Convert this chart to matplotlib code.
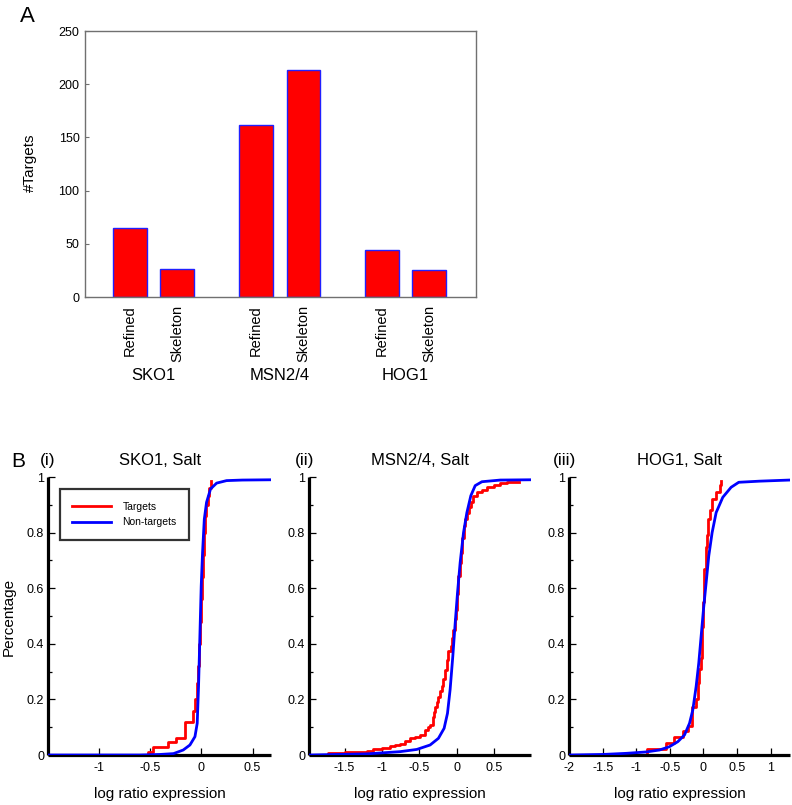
import matplotlib
matplotlib.use("Agg")
import matplotlib.pyplot as plt
from matplotlib.lines import Line2D
from matplotlib.ticker import MultipleLocator

plt.rcParams['font.family'] = ['Liberation Sans', 'DejaVu Sans']

# ---------------- Data ----------------
groups = ["SKO1", "MSN2/4", "HOG1"]
bar_labels = ["Refined", "Skeleton", "Refined", "Skeleton", "Refined", "Skeleton"]
bar_values = [65, 26, 162, 213, 44, 25]

panel_titles = ["SKO1, Salt", "MSN2/4, Salt", "HOG1, Salt"]
panel_tags = ["(i)", "(ii)", "(iii)"]

# (i) SKO1
sko1_nt_x = [-1.5, -0.6, -0.4, -0.27, -0.175, -0.11, -0.061, -0.039, -0.026, -0.013, 0.0, 0.013, 0.03, 0.052, 0.091, 0.15, 0.247, 0.4, 0.68]
sko1_nt_y = [0.0, 0.0, 0.002, 0.005, 0.018, 0.036, 0.066, 0.114, 0.247, 0.427, 0.608, 0.728, 0.848, 0.909, 0.957, 0.978, 0.987, 0.989, 0.99]
sko1_t_x = [-0.52, -0.52, -0.47, -0.32, -0.25, -0.16, -0.08, -0.06, -0.045, -0.035, -0.025, -0.015, -0.005, 0.005, 0.015, 0.025, 0.035, 0.05, 0.065, 0.08, 0.10]
sko1_t_y = [0.0, 0.012, 0.03, 0.045, 0.06, 0.12, 0.16, 0.2, 0.26, 0.32, 0.4, 0.48, 0.56, 0.64, 0.72, 0.8, 0.86, 0.9, 0.93, 0.96, 0.985]

# (ii) MSN2/4
msn_nt_x = [-1.97, -1.205, -0.759, -0.535, -0.357, -0.246, -0.17, -0.125, -0.09, -0.054, -0.022, 0.009, 0.044, 0.089, 0.134, 0.187, 0.245, 0.335, 0.58, 0.98]
msn_nt_y = [0.0, 0.004, 0.012, 0.02, 0.036, 0.06, 0.096, 0.15, 0.235, 0.355, 0.475, 0.584, 0.692, 0.8, 0.872, 0.933, 0.969, 0.983, 0.989, 0.99]
msn_t_x = [-1.72, -1.72, -1.5, -1.34, -1.2, -1.116, -1.0, -0.893, -0.82, -0.759, -0.69, -0.625, -0.56, -0.491,
           -0.424, -0.39, -0.357, -0.313, -0.3, -0.29, -0.27, -0.246, -0.22, -0.2, -0.18, -0.157, -0.135, -0.112,
           -0.08, -0.06, -0.045, -0.025, -0.009, 0.005, 0.021, 0.04, 0.058, 0.075, 0.089, 0.11, 0.134, 0.16, 0.187,
           0.22, 0.268, 0.335, 0.402, 0.49, 0.58, 0.67, 0.825]
msn_t_y = [0.0, 0.006, 0.009, 0.012, 0.016, 0.02, 0.025, 0.033, 0.037, 0.04, 0.05, 0.06, 0.065, 0.072,
           0.09, 0.1, 0.108, 0.138, 0.155, 0.174, 0.19, 0.21, 0.23, 0.247, 0.275, 0.307, 0.34, 0.373,
           0.391, 0.42, 0.451, 0.49, 0.523, 0.58, 0.644, 0.69, 0.728, 0.78, 0.824, 0.85, 0.872, 0.893, 0.909,
           0.93, 0.945, 0.955, 0.965, 0.973, 0.978, 0.981, 0.983]

# (iii) HOG1
hog_nt_x = [-2.0, -1.498, -1.15, -0.853, -0.655, -0.506, -0.382, -0.283, -0.208, -0.159, -0.109, -0.07, -0.035, 0.0, 0.04, 0.079, 0.129, 0.189, 0.288, 0.412, 0.526, 0.833, 1.28]
hog_nt_y = [0.0, 0.002, 0.006, 0.011, 0.018, 0.03, 0.048, 0.072, 0.114, 0.162, 0.247, 0.331, 0.427, 0.523, 0.62, 0.716, 0.8, 0.872, 0.927, 0.963, 0.981, 0.985, 0.989]
hog_t_x = [-0.843, -0.843, -0.555, -0.432, -0.298, -0.233, -0.169, -0.109, -0.084, -0.06, -0.035, -0.02, -0.01, 0.015, 0.04, 0.055, 0.075, 0.1, 0.124, 0.19, 0.24, 0.265]
hog_t_y = [0.0, 0.02, 0.042, 0.066, 0.088, 0.105, 0.174, 0.2, 0.26, 0.31, 0.35, 0.46, 0.55, 0.67, 0.75, 0.79, 0.85, 0.88, 0.92, 0.945, 0.97, 0.985]

panel_data = [
    (sko1_nt_x, sko1_nt_y, sko1_t_x, sko1_t_y),
    (msn_nt_x, msn_nt_y, msn_t_x, msn_t_y),
    (hog_nt_x, hog_nt_y, hog_t_x, hog_t_y),
]
panel_xlims = [(-1.49, 0.68), (-1.97, 0.99), (-2.0, 1.29)]
panel_xticks = [[-1, -0.5, 0, 0.5], [-1.5, -1, -0.5, 0, 0.5], [-2, -1.5, -1, -0.5, 0, 0.5, 1]]

# ---------------- Figure ----------------
W, H = 792, 805
fig = plt.figure(figsize=(W / 100, H / 100), dpi=100)


def rect(l, t, r, b):
    return [l / W, 1 - b / H, (r - l) / W, (b - t) / H]


def fpos(x, y):
    return x / W, 1 - y / H


# ---------------- Panel A ----------------
axA = fig.add_axes(rect(85, 31, 476, 297))
positions = [1, 2, 3.67, 4.67, 6.33, 7.33]
axA.bar(positions, bar_values, width=0.71, color="#ff0000", edgecolor="#2020ff", linewidth=1.0, zorder=2)
axA.set_xlim(0.05, 8.32)
axA.set_ylim(0, 250)
axA.set_yticks([0, 50, 100, 150, 200, 250])
axA.set_xticks(positions)
axA.set_xticklabels(bar_labels, rotation=90, fontsize=10.5, va="top", ha="center")
for s in axA.spines.values():
    s.set_color("#707070")
    s.set_linewidth(1.0)
axA.tick_params(axis="both", direction="in", length=3, color="#707070", labelsize=9, width=0.8)
axA.tick_params(axis="x", pad=6, labelsize=10.5)
axA.tick_params(axis="y", pad=4)
axA.tick_params(axis="y", which="both", right=False)

for gi, g in enumerate(groups):
    xc = (positions[2 * gi] + positions[2 * gi + 1]) / 2
    axA.text(xc, (297 - 376) / 266, g, transform=axA.get_xaxis_transform(),
             ha="center", va="center", fontsize=12)

fig.text(*fpos(30, 163), "#Targets", rotation=90, ha="center", va="center", fontsize=11)
fig.text(*fpos(20, 22), "A", ha="left", va="baseline", fontsize=16)

# ---------------- Panel B ----------------
axes_px = [(48.3, 477, 271, 755), (309.3, 477, 531, 755), (569.3, 477, 790, 755)]
for i, (l, t, r, b) in enumerate(axes_px):
    ax = fig.add_axes(rect(l, t, r, b))
    ntx, nty, tx, ty = panel_data[i]
    ax.plot(ntx, nty, color="#0000ff", linewidth=2.0, zorder=3, label="Non-targets")
    ax.plot(tx, ty, color="#ff0000", linewidth=2.0, drawstyle="steps-post", zorder=2, label="Targets")
    ax.set_xlim(*panel_xlims[i])
    ax.set_ylim(0, 1.0)
    ax.set_xticks(panel_xticks[i])
    ax.set_xticklabels([("%g" % v) for v in panel_xticks[i]])
    ax.set_yticks([0, 0.2, 0.4, 0.6, 0.8, 1])
    ax.set_yticklabels(["0", "0.2", "0.4", "0.6", "0.8", "1"])
    ax.yaxis.set_minor_locator(MultipleLocator(0.1))
    for side in ["top", "right"]:
        ax.spines[side].set_visible(False)
    for side in ["left", "bottom"]:
        ax.spines[side].set_linewidth(2.3)
        ax.spines[side].set_color("black")
        ax.spines[side].set_capstyle("butt")
    ax.tick_params(axis="both", which="major", direction="in", length=5, width=0.9, labelsize=9, pad=3)
    ax.tick_params(axis="y", which="minor", direction="in", length=3, width=0.9)
    ax.tick_params(axis="x", pad=5)
    ax.set_title(panel_titles[i], fontsize=12, pad=9)
    xc = (l + r) / 2
    fig.text(*fpos(xc, 794), "log ratio expression", ha="center", va="center", fontsize=11)
    tag_x = [40, 295, 553][i]
    fig.text(*fpos(tag_x, 465), panel_tags[i], ha="left", va="baseline", fontsize=12.5)
    if i == 0:
        handles = [Line2D([], [], color="#ff0000", linewidth=2.0),
                   Line2D([], [], color="#0000ff", linewidth=2.0)]
        leg = ax.legend(handles, ["Targets", "Non-targets"], loc="upper left",
                        bbox_to_anchor=(0.0525, 0.956), borderaxespad=0,
                        fontsize=7.5, frameon=True, fancybox=False,
                        handlelength=3.7, handletextpad=1.1, borderpad=1.2,
                        labelspacing=0.55)
        leg.get_frame().set_edgecolor("black")
        leg.get_frame().set_linewidth(1.6)

fig.text(*fpos(9, 617), "Percentage", rotation=90, ha="center", va="center", fontsize=11)
fig.text(*fpos(11, 467), "B", ha="left", va="baseline", fontsize=15)

fig.savefig("out.png", dpi=100)
